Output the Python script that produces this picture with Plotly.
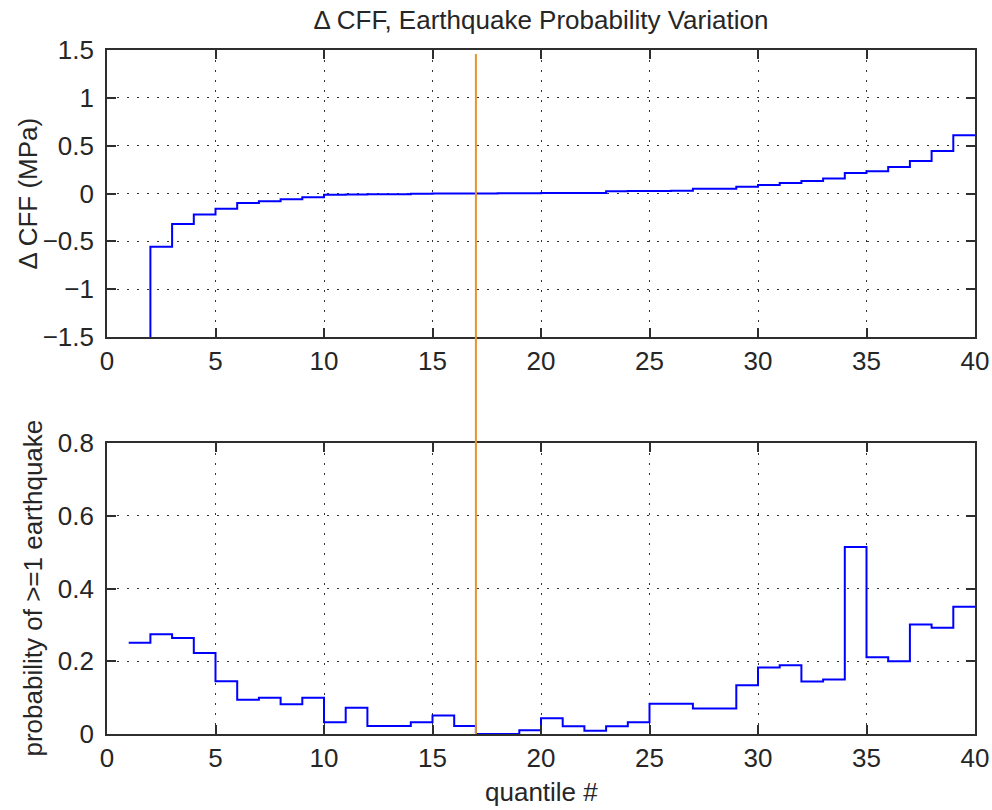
import plotly.graph_objects as go
from plotly.subplots import make_subplots

# Quantile bin edges 1..40; each value holds from its edge to the next one
quantile_edges = list(range(1, 41))

# Coulomb stress change per quantile (MPa); quantile 1 lies far below the axis range
delta_cff = [
    -2.5, -0.556, -0.32, -0.22, -0.16, -0.10, -0.08, -0.06, -0.04, -0.012,
    -0.010, -0.009, -0.008, -0.002, -0.001, 0.0, 0.001, 0.002, 0.003, 0.004,
    0.005, 0.006, 0.024, 0.025, 0.026, 0.028, 0.049, 0.050, 0.07, 0.09,
    0.11, 0.13, 0.156, 0.215, 0.233, 0.278, 0.34, 0.444, 0.608,
]

# Probability of at least one earthquake per quantile
prob_eq = [
    0.251, 0.274, 0.264, 0.223, 0.145, 0.094, 0.100, 0.082, 0.100, 0.032,
    0.072, 0.022, 0.022, 0.032, 0.051, 0.022, 0.0, 0.0, 0.010, 0.043,
    0.021, 0.009, 0.021, 0.032, 0.083, 0.083, 0.070, 0.070, 0.134, 0.183,
    0.189, 0.144, 0.150, 0.514, 0.211, 0.200, 0.301, 0.292, 0.350,
]

# Quantile where stress change crosses zero
zero_crossing_quantile = 17

FONT = "Liberation Sans, Arial, sans-serif"
FS = 26
INK = "#262626"
AXIS = "#2e2e2e"

W, H = 992, 810
L, R, T, B = 107, 17, 50, 76
plot_h = H - T - B


def stairs(vals):
    # repeat last value so the final step reaches the last edge
    return vals + [vals[-1]]


fig = make_subplots(rows=2, cols=1, shared_xaxes=False)

fig.add_trace(go.Scatter(x=quantile_edges, y=stairs(delta_cff), mode="lines",
                         line=dict(color="#0000FF", width=2, shape="hv"),
                         showlegend=False), row=1, col=1)
fig.add_trace(go.Scatter(x=quantile_edges, y=stairs(prob_eq), mode="lines",
                         line=dict(color="#0000FF", width=2, shape="hv"),
                         showlegend=False), row=2, col=1)

top_dom = [(H - B - 337) / plot_h, 1.0]
bot_dom = [0.0, (H - B - 443) / plot_h]

common_x = dict(range=[0, 40], tick0=0, dtick=5, ticks="inside", ticklen=9,
                tickwidth=1.5, tickcolor=AXIS, showline=True, linewidth=1.6,
                linecolor=AXIS, mirror="ticks", showgrid=True,
                gridcolor="#333333", gridwidth=1, griddash="2px,8px",
                zeroline=False, tickfont=dict(family=FONT, size=FS, color=INK),
                automargin=False, fixedrange=True)
common_y = dict(ticks="inside", ticklen=9, tickwidth=1.5, tickcolor=AXIS,
                showline=True, linewidth=1.6, linecolor=AXIS, mirror="ticks",
                showgrid=True, gridcolor="#333333", gridwidth=1,
                griddash="2px,8px", zeroline=False,
                tickfont=dict(family=FONT, size=FS, color=INK),
                ticklabelstandoff=6, automargin=False, fixedrange=True)

fig.update_layout(
    width=W, height=H,
    margin=dict(l=L, r=R, t=T, b=B, autoexpand=False),
    paper_bgcolor="white", plot_bgcolor="white",
    xaxis=dict(common_x, domain=[0, 1], anchor="y"),
    xaxis2=dict(common_x, domain=[0, 1], anchor="y2"),
    yaxis=dict(common_y, domain=top_dom, range=[-1.5, 1.5], tick0=-1.5,
               dtick=0.5, tickformat="~g", anchor="x"),
    yaxis2=dict(common_y, domain=bot_dom, range=[0, 0.8], tick0=0,
                dtick=0.2, tickformat="~g", anchor="x2"),
    title=dict(text="\u0394 CFF, Earthquake Probability Variation",
               font=dict(family=FONT, size=FS, color=INK),
               x=(L + (W - R)) / 2 / W, xanchor="center",
               y=1 - 20 / H, yanchor="middle", yref="container"),
)

# Axis titles
fig.add_annotation(text="\u0394 CFF (MPa)", textangle=-90, showarrow=False,
                   xref="paper", yref="paper", x=0, xshift=28 - L,
                   y=(top_dom[0] + top_dom[1]) / 2, xanchor="center",
                   yanchor="middle", font=dict(family=FONT, size=FS, color=INK))
fig.add_annotation(text="probability of >=1 earthquake", textangle=-90,
                   showarrow=False, xref="paper", yref="paper", x=0,
                   xshift=32 - L, y=(bot_dom[0] + bot_dom[1]) / 2,
                   xanchor="center", yanchor="middle",
                   font=dict(family=FONT, size=FS, color=INK))
fig.add_annotation(text="quantile #", showarrow=False, xref="paper",
                   yref="paper", x=0.5, y=0, yshift=-(792 - (H - B)),
                   xanchor="center", yanchor="middle",
                   font=dict(family=FONT, size=FS, color=INK))

# Vertical marker at the zero-crossing quantile, spanning both panels
fig.add_shape(type="line", xref="x", yref="paper",
              x0=zero_crossing_quantile, x1=zero_crossing_quantile,
              y0=0, y1=(H - B - 54) / plot_h,
              line=dict(color="#E8922C", width=2), layer="above")

fig.write_html("out.html")
